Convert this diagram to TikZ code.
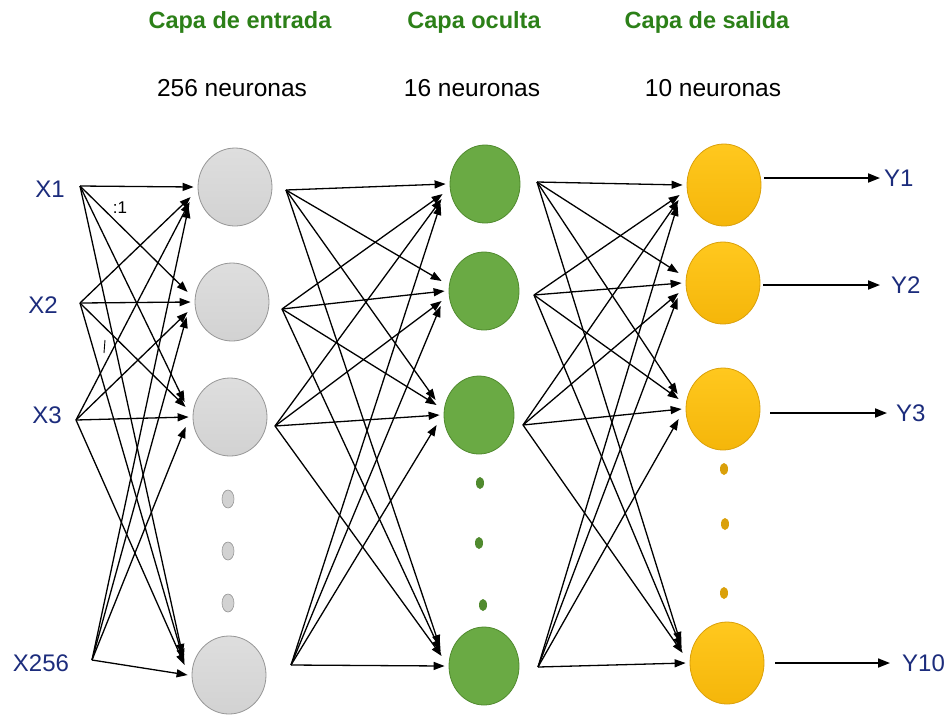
\documentclass[tikz,border=0pt]{standalone}
\usepackage{fontspec}
\setmainfont{Liberation Sans}
\usetikzlibrary{arrows.meta,shapes.geometric,calc}

\definecolor{titlegreen}{RGB}{44,128,24}
\definecolor{labelblue}{RGB}{28,44,124}
\definecolor{grayfill}{RGB}{210,210,210}
\definecolor{grayfilltop}{RGB}{222,222,222}
\definecolor{grayedge}{RGB}{150,150,150}
\definecolor{greenfill}{RGB}{106,170,68}
\definecolor{greenedge}{RGB}{80,138,46}
\definecolor{yellowtop}{RGB}{255,200,30}
\definecolor{yellowbot}{RGB}{245,182,10}
\definecolor{yellowedge}{RGB}{218,160,10}

\tikzset{
  neuron/.style={ellipse, inner sep=0pt, line width=0.8pt},
  inneuron/.style={neuron, draw=grayedge, top color=grayfilltop, bottom color=grayfill,
                   minimum width=74pt, minimum height=78pt},
  hidneuron/.style={neuron, draw=greenedge, fill=greenfill,
                    minimum width=70pt, minimum height=78pt},
  outneuron/.style={neuron, draw=yellowedge, top color=yellowtop, bottom color=yellowbot,
                    minimum width=74pt, minimum height=82pt},
  graydot/.style={ellipse, draw=grayedge, fill=grayfill, line width=0.6pt,
                  minimum width=12pt, minimum height=18pt, inner sep=0pt},
  greendot/.style={ellipse, fill=greenedge, minimum width=8pt, minimum height=12pt, inner sep=0pt},
  yellowdot/.style={ellipse, fill=yellowedge, minimum width=8pt, minimum height=12pt, inner sep=0pt},
  layertitle/.style={font=\bfseries\fontsize{23.5}{27}\selectfont, text=titlegreen},
  layercount/.style={font=\fontsize{24.5}{28}\selectfont, text=black},
  iolabel/.style={font=\fontsize{24}{28}\selectfont, text=labelblue, inner sep=0pt},
  link/.style={line width=1.3pt, -{Triangle[length=11pt,width=8pt]}},
  outlink/.style={line width=1.8pt, -{Triangle[length=12pt,width=9pt]}}
}

% arrow from source #1<i> to target #2<j>; the tip sits left of the target,
% moved up or down according to where the source lies
\newcommand{\netlink}[4]{%
  \pgfmathsetmacro\dlev{#3-#4}%
  \pgfmathsetmacro\dtip{ifthenelse(\dlev==0,0,sign(\dlev)*(5+5*abs(\dlev)))}%
  \pgfmathsetmacro\xtip{ifthenelse(\dlev==0,-4,-6-abs(\dlev))}%
  \draw[link] (#1#3) -- ($(#2#4.west)+(\xtip,\dtip)$);%
}

\begin{document}
\begin{tikzpicture}[x=1pt,y=-1pt]
\useasboundingbox (0,0) rectangle (952,716);

% layer headings
\node[layertitle] (t1) at (240,22) {Capa de entrada};
\node[layertitle] (t2) at (474,22) {Capa oculta};
\node[layertitle] (t3) at (707,22) {Capa de salida};
\node[layercount] (c1) at (232,88) {256 neuronas};
\node[layercount] (c2) at (472,88) {16 neuronas};
\node[layercount] (c3) at (713,88) {10 neuronas};

% inputs
\node[iolabel] (x1) at (50,189) {X1};
\node[iolabel] (x2) at (43,305) {X2};
\node[iolabel] (x3) at (47,415) {X3};
\node[iolabel] (x4) at (41,663) {X256};
\coordinate (s1) at (80,186);
\coordinate (s2) at (80,303);
\coordinate (s3) at (76,420);
\coordinate (s4) at (92,660);
\node[font=\fontsize{17}{19}\selectfont, inner sep=0pt] (w) at (120,208) {:1};
\coordinate (m1) at (105,340);
\coordinate (m2) at (104,353);
\draw[line width=0.9pt] (m1) -- (m2);

% input layer
\node[inneuron] (g1) at (235,187) {};
\node[inneuron] (g2) at (232,302) {};
\node[inneuron] (g3) at (230,417) {};
\node[inneuron] (g4) at (229,675) {};
\node[graydot] (gd1) at (228,499) {};
\node[graydot] (gd2) at (228,551) {};
\node[graydot] (gd3) at (228,603) {};
\coordinate (a1) at (286,190);
\coordinate (a2) at (282,309);
\coordinate (a3) at (275,426);
\coordinate (a4) at (291,665);

% hidden layer
\node[hidneuron] (h1) at (485,184) {};
\node[hidneuron] (h2) at (484,291) {};
\node[hidneuron] (h3) at (479,415) {};
\node[hidneuron] (h4) at (484,666) {};
\node[greendot] (hd1) at (480,483) {};
\node[greendot] (hd2) at (479,543) {};
\node[greendot] (hd3) at (483,605) {};
\coordinate (b1) at (537,182);
\coordinate (b2) at (534,295);
\coordinate (b3) at (523,425);
\coordinate (b4) at (538,667);

% output layer
\node[outneuron] (o1) at (724,185) {};
\node[outneuron] (o2) at (723,283) {};
\node[outneuron] (o3) at (723,409) {};
\node[outneuron] (o4) at (727,663) {};
\node[yellowdot] (od1) at (724,469) {};
\node[yellowdot] (od2) at (725,524) {};
\node[yellowdot] (od3) at (724,593) {};

% outputs
\node[iolabel, anchor=west] (y1) at (884,178) {Y1};
\node[iolabel, anchor=west] (y2) at (891,285) {Y2};
\node[iolabel, anchor=west] (y3) at (896,413) {Y3};
\node[iolabel, anchor=west] (y4) at (902,663) {Y10};

% full connections between layers
\foreach \i in {1,...,4}
  \foreach \j in {1,...,4} {
    \netlink{s}{g}{\i}{\j}
    \netlink{a}{h}{\i}{\j}
    \netlink{b}{o}{\i}{\j}
  }

% output arrows
\draw[outlink] ([xshift=3pt]o1.east |- y1.west) -- ([xshift=-4pt]y1.west);
\draw[outlink] ([xshift=3pt]o2.east |- y2.west) -- ([xshift=-11pt]y2.west);
\draw[outlink] ([xshift=10pt]o3.east |- y3.west) -- ([xshift=-9pt]y3.west);
\draw[outlink] ([xshift=11pt]o4.east |- y4.west) -- ([xshift=-12pt]y4.west);
\end{tikzpicture}
\end{document}
